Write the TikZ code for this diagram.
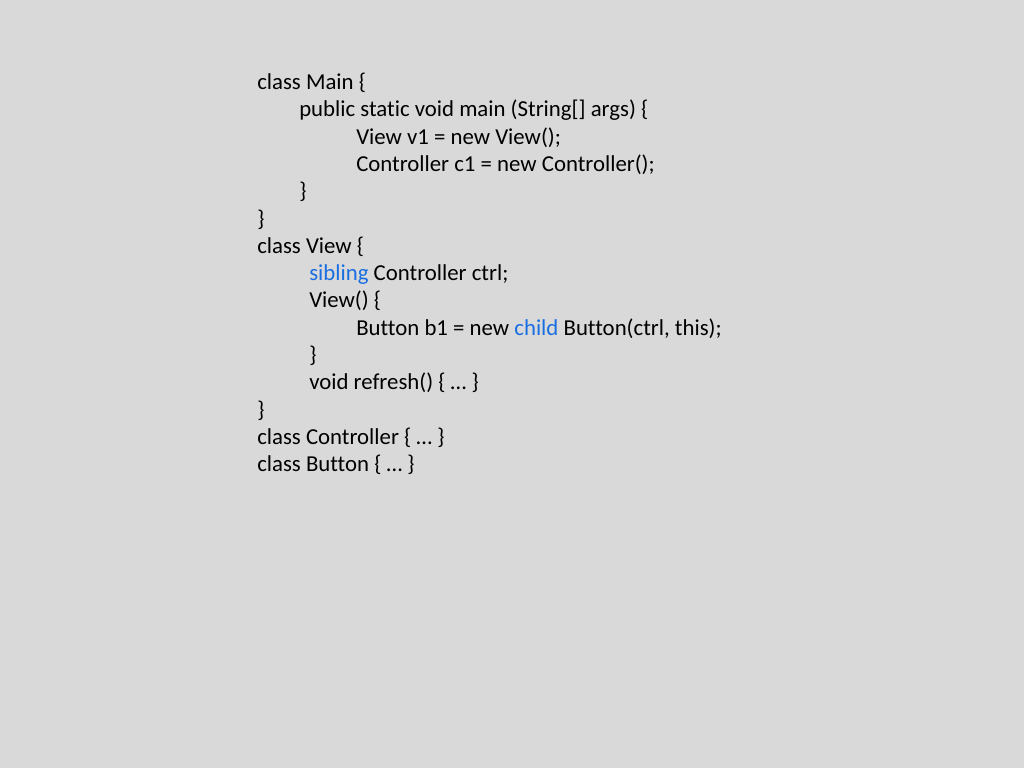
\documentclass[tikz,border=0pt]{standalone}
\usepackage{fontspec}
\setmainfont{Carlito}[Ligatures={NoCommon}]
\definecolor{bg}{RGB}{217,217,217}
\definecolor{kw}{RGB}{25,110,225}
\begin{document}
\begin{tikzpicture}[x=0.75pt,y=-0.75pt,
  code/.style={anchor=base west,inner sep=0pt,font=\fontsize{17.1}{20.5}\selectfont,text=black}]
\fill[bg] (0,0) rectangle (1024,768);
\useasboundingbox (0,0) rectangle (1024,768);
\node[code] (l1) at (257,89.5) {class Main \{};
\node[code] (l2) at (299,116.8) {public static void main (String[] args) \{};
\node[code] (l3) at (356,144.1) {View v1 = new View();};
\node[code] (l4) at (356,171.4) {Controller c1 = new Controller();};
\node[code] (l5) at (299,198.7) {\}};
\node[code] (l6) at (257,226) {\}};
\node[code] (l7) at (257,253.3) {class View \{};
\node[code] (l8) at (309,280.6) {\textcolor{kw}{sibling} Controller ctrl;};
\node[code] (l9) at (309,307.9) {View() \{};
\node[code] (l10) at (356,335.2) {Button b1 = new \textcolor{kw}{child} Button(ctrl, this);};
\node[code] (l11) at (309,362.5) {\}};
\node[code] (l12) at (309,389.8) {void refresh() \{ … \}};
\node[code] (l13) at (257,417.1) {\}};
\node[code] (l14) at (257,444.4) {class Controller \{ … \}};
\node[code] (l15) at (257,471.7) {class Button \{ … \}};
\end{tikzpicture}
\end{document}
